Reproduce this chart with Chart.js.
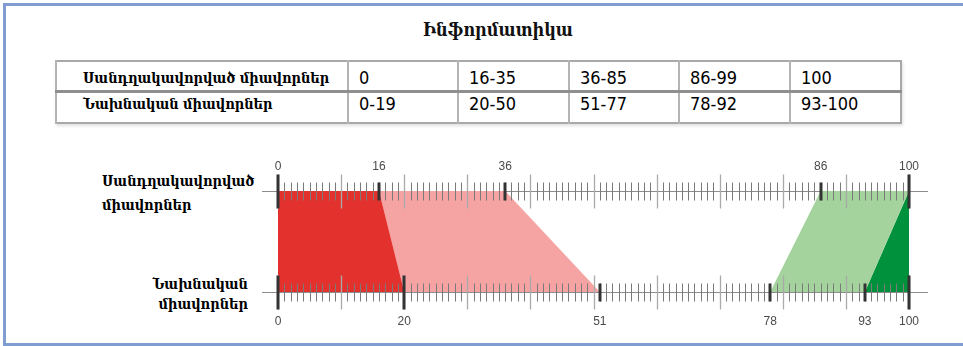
<!DOCTYPE html>
<html>
<head>
<meta charset="utf-8">
<script src="https://cdn.jsdelivr.net/npm/chart.js@4.4.1/dist/chart.umd.min.js"></script>
<style>
  html, body { margin: 0; padding: 0; background: #fff; width: 963px; height: 346px; overflow: hidden; }
  #frame { position: absolute; left: 3px; top: 3px; width: 980px; height: 337px;
           border: 3px solid #7f9dd0; border-right: none; }
  #title { position: absolute; left: 0; width: 996px; top: 19px; text-align: center;
           font: bold 18px "DejaVu Serif", serif; font-stretch: condensed; color: #111; }
  table { position: absolute; left: 55px; top: 60px; width: 845px; border-collapse: collapse;
          border: 2px solid #a8a8a8; box-shadow: 1px 2px 3px rgba(0,0,0,0.12); table-layout: fixed; }
  td { border-left: 2px solid #b4b4b4; padding: 0 0 0 10px; color: #000;
       font-family: "DejaVu Sans", sans-serif; font-stretch: condensed; font-size: 18px; white-space: nowrap; }
  td.lab { padding-left: 26px; font: bold 14.5px "DejaVu Serif", serif; font-stretch: condensed; }
  tr.r1 td { height: 25px; padding-top: 3px; border-bottom: 3px solid #8f8f8f; }
  tr.r2 td { height: 17px; padding-bottom: 8px; }
  .ylab { position: absolute; font: bold 14.5px "DejaVu Serif", serif; font-stretch: condensed;
          color: #000; white-space: nowrap; }
  #chartBox { position: absolute; left: 0; top: 120px; width: 963px; height: 235px; }
</style>
</head>
<body>
<div id="frame"></div>
<div id="title"></div>
<table id="tbl"></table>
<div class="ylab" id="ylabTop" style="left:102px; top:169px; line-height:24px;"></div>
<div class="ylab" id="ylabBot" style="right:715px; top:274px; line-height:20px; text-align:right;"></div>
<div id="chartBox"><canvas id="ruler"></canvas></div>

<script>
// =========================
// Données
// =========================
const titleText = "Ինֆորմատիկա";
const scaledName = "Սանդղակավորված միավորներ";
const rawName = "Նախնական միավորներ";
const scaledRanges = ["0", "16-35", "36-85", "86-99", "100"];
const rawRanges = ["0-19", "20-50", "51-77", "78-92", "93-100"];

// tick labels on each ruler
const scaledTicks = [0, 16, 36, 86, 100];
const rawTicks = [0, 20, 51, 78, 93, 100];

// band edges: scaled value (top ruler) -> raw value (bottom ruler)
const edgeScaled = [0, 16, 36, 86, 100, 100];
const edgeRaw = [0, 20, 51, 78, 93, 100];
// colour of the band to the left of each edge (null = no band)
const bandColors = [null, "#e3322e", "#f5a4a3", null, "#a5d39e", "#00913c"];

// =========================
// Texte HTML
// =========================
document.getElementById("title").textContent = titleText;

const tbl = document.getElementById("tbl");
const widths = [292, 110, 111, 110, 111, 111];
let html = "<colgroup>" + widths.map(w => `<col style="width:${w}px">`).join("") + "</colgroup>";
html += `<tr class="r1"><td class="lab">${scaledName}</td>` + scaledRanges.map(v => `<td>${v}</td>`).join("") + "</tr>";
html += `<tr class="r2"><td class="lab">${rawName}</td>` + rawRanges.map(v => `<td>${v}</td>`).join("") + "</tr>";
tbl.innerHTML = html;

document.getElementById("ylabTop").innerHTML = scaledName.split(" ").join("<br>");
document.getElementById("ylabBot").innerHTML = rawName.split(" ").join("<br>");

// =========================
// Règle (ticks croisés)
// =========================
const rulerPlugin = {
  id: "rulerTicks",
  afterDraw(chart) {
    const ctx = chart.ctx;
    const yScale = chart.scales.y;
    [["xTop", 1, scaledTicks], ["xBot", 0, rawTicks]].forEach(([id, level, majors]) => {
      const sx = chart.scales[id];
      const yc = Math.round(yScale.getPixelForValue(level)) + 0.5;
      ctx.save();
      for (let v = 0; v <= 100; v++) {
        const px = Math.round(sx.getPixelForValue(v)) + 0.5;
        ctx.beginPath();
        if (v % 10 === 0) {
          ctx.strokeStyle = "#aaaaaa";
          ctx.lineWidth = 1.3;
          ctx.moveTo(px, yc - 17);
          ctx.lineTo(px, yc + 17);
        } else {
          ctx.strokeStyle = "#7a7a7a";
          ctx.lineWidth = 1;
          ctx.moveTo(px, yc - 9);
          ctx.lineTo(px, yc + 9);
        }
        ctx.stroke();
      }
      majors.forEach(v => {
        const px = Math.round(sx.getPixelForValue(v));
        const len = v % 10 === 0 ? 17 : 9;
        ctx.beginPath();
        ctx.strokeStyle = "#333333";
        ctx.lineWidth = 3;
        ctx.moveTo(px, yc - len);
        ctx.lineTo(px, yc + len);
        ctx.stroke();
      });
      ctx.restore();
    });
  }
};

// =========================
// Graphique
// =========================
const datasets = edgeScaled.map((s, i) => ({
  data: [{ x: s, y: 1 }, { x: edgeRaw[i], y: 0 }],
  xAxisID: "xTop",
  yAxisID: "y",
  borderWidth: 0,
  borderColor: "rgba(0,0,0,0)",
  pointRadius: 0,
  backgroundColor: bandColors[i] || "rgba(0,0,0,0)",
  fill: bandColors[i] ? "-1" : false
}));

const axisCommon = {
  type: "linear",
  min: -2.54,
  max: 102.85,
  z: 1,
  grid: { display: false, drawTicks: false },
  border: { display: true, color: "#8c8c8c", width: 1 },
  ticks: {
    autoSkip: false,
    maxRotation: 0,
    color: "#4a4a4a",
    font: { family: "Liberation Sans", size: 12 },
    callback: v => String(v)
  }
};

new Chart(document.getElementById("ruler"), {
  type: "line",
  data: { datasets },
  options: {
    indexAxis: "y",
    responsive: true,
    maintainAspectRatio: false,
    animation: false,
    layout: { padding: { left: 262, right: 36, top: 22.6, bottom: 4.6 } },
    plugins: { legend: { display: false }, tooltip: { enabled: false } },
    scales: {
      y: { type: "linear", min: 0, max: 1, display: false },
      xTop: {
        ...axisCommon,
        position: "top",
        ticks: { ...axisCommon.ticks, padding: 17 },
        afterBuildTicks: s => { s.ticks = scaledTicks.map(v => ({ value: v })); }
      },
      xBot: {
        ...axisCommon,
        position: "bottom",
        ticks: { ...axisCommon.ticks, padding: 22 },
        afterBuildTicks: s => { s.ticks = rawTicks.map(v => ({ value: v })); }
      }
    }
  },
  plugins: [rulerPlugin]
});
</script>
</body>
</html>
